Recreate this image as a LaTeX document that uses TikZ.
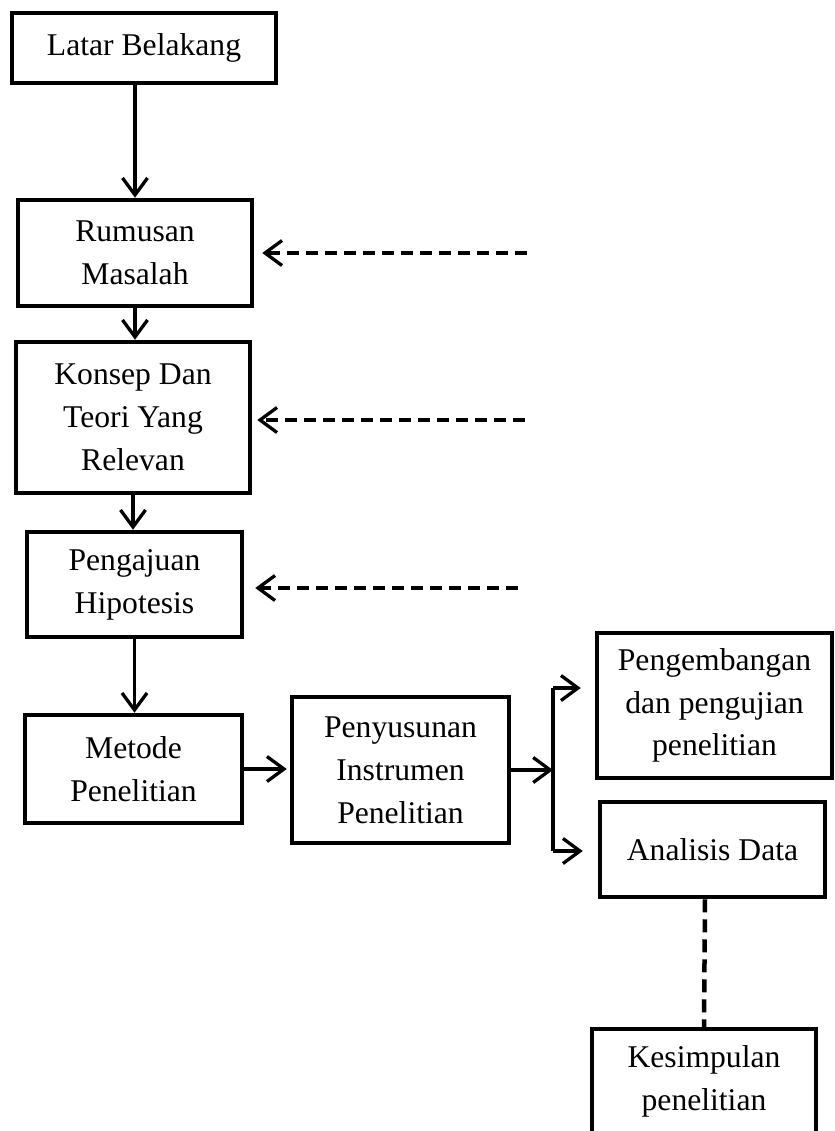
\documentclass[tikz,border=0pt]{standalone}
\usepackage{fontspec}
\setmainfont{Liberation Serif}
\usetikzlibrary{arrows.meta,positioning}

\begin{document}
\begin{tikzpicture}[
  stage/.style={draw, line width=0.045cm, align=center, inner sep=0pt,
                font=\fontsize{9.0}{12.2}\selectfont},
  flow/.style={line width=0.033cm, -{Straight Barb[length=1.7mm, width=2.5mm]}},
  feed/.style={flow, dash pattern=on 0.12cm off 0.07cm},
  link/.style={line width=0.045cm, dash pattern=on 0.13cm off 0.07cm}
]
  \useasboundingbox (0,0) rectangle (8.35,-11.31);

  \node[stage, minimum width=2.64cm, minimum height=0.70cm] (LB) at (1.44,-0.48) {Latar Belakang};
  \node[stage, minimum width=2.34cm, minimum height=1.06cm] (RM) at (1.35,-2.53) {Rumusan\\Masalah};
  \node[stage, minimum width=2.34cm, minimum height=1.51cm] (KT) at (1.33,-4.175) {Konsep Dan\\Teori Yang\\Relevan};
  \node[stage, minimum width=2.15cm, minimum height=1.05cm] (PH) at (1.345,-5.845) {Pengajuan\\Hipotesis};
  \node[stage, minimum width=2.17cm, minimum height=1.08cm] (MP) at (1.335,-7.69) {Metode\\Penelitian};
  \node[stage, minimum width=2.17cm, minimum height=1.46cm] (PI) at (4.005,-7.70) {Penyusunan\\Instrumen\\Penelitian};
  \node[stage, minimum width=2.35cm, minimum height=1.45cm] (PP) at (7.145,-7.055) {Pengembangan\\dan pengujian\\penelitian};
  \node[stage, minimum width=2.25cm, minimum height=0.95cm] (AD) at (7.125,-8.495) {Analisis Data};
  \node[stage, minimum width=2.24cm, minimum height=1.04cm] (KP) at (7.04,-10.81) {Kesimpulan\\penelitian};

  \coordinate (d1) at (5.27,-2.53);
  \coordinate (d2) at (5.25,-4.20);
  \coordinate (d3) at (5.18,-5.88);
  \coordinate (bt) at (5.53,-6.88);
  \coordinate (bb) at (5.53,-8.51);

  \draw[flow] (RM.north |- LB.south) -- (RM.north);
  \draw[flow] (RM.south) -- (KT.north -| RM.south);
  \draw[flow] (KT.south) -- (PH.north -| KT.south);
  \draw[flow] (PH.south) -- (MP.north -| PH.south);
  \draw[flow, shorten >=0.03cm] (MP.east) -- (MP.east -| PI.west);

  \draw[feed, shorten >=0.08cm] (d1) -- (d1 -| RM.east);
  \draw[feed, shorten >=0.05cm] (d2) -- (d2 -| KT.east);
  \draw[feed, shorten >=0.11cm] (d3) -- (d3 -| PH.east);

  \draw[flow] (PI.east) -- (PI.east -| bt);
  \draw[line width=0.033cm] (bt) -- (bb);
  \draw[flow, shorten >=0.14cm] (bt) -- (bt -| PP.west);
  \draw[flow, shorten >=0.15cm] (bb) -- (bb -| AD.west);

  \draw[link] (AD.south -| 7.05,0) -- (KP.north);
\end{tikzpicture}
\end{document}
